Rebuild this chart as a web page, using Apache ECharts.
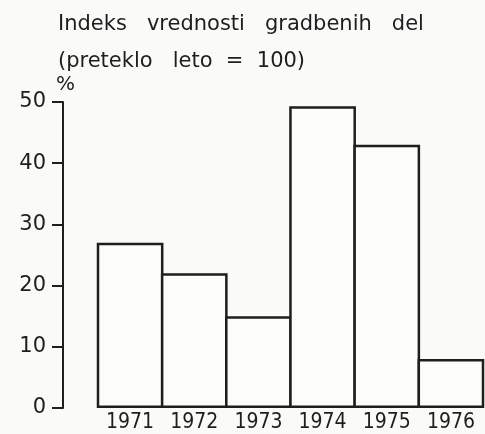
<!DOCTYPE html>
<html>
<head>
<meta charset="utf-8">
<script src="https://cdn.jsdelivr.net/npm/echarts@6/dist/echarts.min.js"></script>
<style>
  html, body { margin: 0; padding: 0; background: #fafaf8; }
  #chart { width: 485px; height: 434px; }
</style>
</head>
<body>
<div id="chart"></div>
<script>
// Indeks vrednosti gradbenih del, preteklo leto = 100
const years = ['1971', '1972', '1973', '1974', '1975', '1976']
const values = [27, 22, 15, 49.3, 43, 8]
const yTicks = [0, 10, 20, 30, 40, 50]

const ink = '#1e1e1e'
const font = 'DejaVu Sans'
const narrow = '"DejaVu Sans Condensed", "DejaVu Sans"'

const chart = echarts.init(document.getElementById('chart'))
chart.setOption({
  backgroundColor: '#fafaf8',
  animation: false,
  title: {
    text: '{a|Indeks   vrednosti   gradbenih   del}\n{a|(preteklo   leto  =  100)}',
    left: 53,
    top: 1,
    textStyle: {
      fontWeight: 'normal',
      rich: {
        a: { fontFamily: font, fontSize: 21, fontWeight: 'normal', color: ink, lineHeight: 37 }
      }
    }
  },
  grid: {
    left: 98,
    right: 2,
    top: 102,
    bottom: 26
  },
  xAxis: {
    type: 'category',
    data: years,
    axisLine: { show: false },
    axisTick: { show: false },
    axisLabel: {
      margin: 4,
      fontFamily: narrow,
      fontSize: 21,
      color: ink
    }
  },
  yAxis: {
    type: 'value',
    min: yTicks[0],
    max: yTicks[yTicks.length - 1],
    interval: 10,
    offset: 35,
    name: '%',
    nameLocation: 'end',
    nameGap: 7,
    nameTextStyle: {
      fontFamily: font,
      fontSize: 20,
      color: ink,
      align: 'left',
      padding: [0, 0, 0, -7]
    },
    axisLine: { show: true, lineStyle: { color: ink, width: 2 } },
    axisTick: { show: true, length: 11, lineStyle: { color: ink, width: 2 } },
    splitLine: { show: false },
    axisLabel: {
      margin: 17,
      fontFamily: font,
      fontSize: 21,
      color: ink
    }
  },
  series: [{
    type: 'bar',
    data: values,
    barWidth: '104%',
    itemStyle: {
      color: '#fcfcfa',
      borderColor: ink,
      borderWidth: 2.5
    }
  }]
})
</script>
</body>
</html>
